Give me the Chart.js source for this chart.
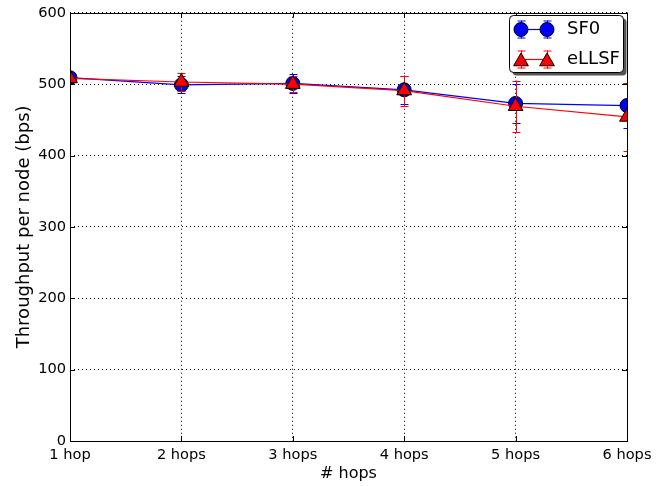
<!DOCTYPE html>
<html>
<head>
<meta charset="utf-8">
<script src="https://cdn.jsdelivr.net/npm/chart.js@4/dist/chart.umd.min.js"></script>
<style>
    html, body { margin: 0; padding: 0; background: #fff; }
    #wrap { width: 672px; height: 486px; }
</style>
</head>
<body>
<div id="wrap"><canvas id="hopsChart" width="672" height="486"></canvas></div>
<script>
// Throughput per node vs number of hops

const hopLabels = ['1 hop', '2 hops', '3 hops', '4 hops', '5 hops', '6 hops'];
const sf0Values = [509, 499, 501, 492, 473, 470];
const sf0Errors = [5, 12, 13, 20, 27, 31];
const ellsfValues = [508, 503, 500, 491, 469, 454];
const ellsfErrors = [4, 12, 11, 21, 36, 47];
const yTicks = [0, 100, 200, 300, 400, 500, 600];

const FONT = 'DejaVu Sans';

// Error bars, drawn just before each dataset so markers sit on top
const errorBarPlugin = {
    id: 'errorBars',
    beforeDatasetDraw(chart, args) {
        const ds = chart.data.datasets[args.index];
        if (!ds.errors) return;
        const ctx = chart.ctx;
        const area = chart.chartArea;
        const yScale = chart.scales.y;
        ctx.save();
        ctx.beginPath();
        ctx.rect(area.left, area.top, area.right - area.left, area.bottom - area.top);
        ctx.clip();
        ctx.strokeStyle = ds.borderColor;
        ctx.lineWidth = 1;
        args.meta.data.forEach((pt, i) => {
            const v = ds.data[i];
            const e = ds.errors[i];
            const x = Math.round(pt.x) + 0.5;
            const yTop = yScale.getPixelForValue(v + e);
            const yBot = yScale.getPixelForValue(v - e);
            ctx.beginPath();
            ctx.moveTo(x, yTop);
            ctx.lineTo(x, yBot);
            ctx.moveTo(x - 4, Math.round(yTop) + 0.5);
            ctx.lineTo(x + 4, Math.round(yTop) + 0.5);
            ctx.moveTo(x - 4, Math.round(yBot) + 0.5);
            ctx.lineTo(x + 4, Math.round(yBot) + 0.5);
            ctx.stroke();
        });
        ctx.restore();
    }
};

// Frame, inward ticks on all four sides, and the legend box
const framePlugin = {
    id: 'frame',
    afterDraw(chart) {
        const ctx = chart.ctx;
        const a = chart.chartArea;
        const xs = chart.scales.x;
        const ys = chart.scales.y;
        ctx.save();
        ctx.strokeStyle = '#000';
        ctx.lineWidth = 1;
        ctx.strokeRect(Math.round(a.left) + 0.5, Math.round(a.top) + 0.5,
            Math.round(a.right - a.left), Math.round(a.bottom - a.top));

        const len = 5;
        ctx.beginPath();
        hopLabels.forEach((l, i) => {
            const x = Math.round(xs.getPixelForValue(i)) + 0.5;
            ctx.moveTo(x, a.bottom); ctx.lineTo(x, a.bottom - len);
            ctx.moveTo(x, a.top); ctx.lineTo(x, a.top + len);
        });
        yTicks.forEach(v => {
            const y = Math.round(ys.getPixelForValue(v)) + 0.5;
            ctx.moveTo(a.left, y); ctx.lineTo(a.left + len, y);
            ctx.moveTo(a.right, y); ctx.lineTo(a.right - len, y);
        });
        ctx.stroke();

        // legend
        const bx = 509.5, by = 15.5, bw = 114, bh = 57, r = 4;
        ctx.fillStyle = '#555';
        ctx.beginPath();
        ctx.roundRect(bx + 3, by + 3, bw, bh, r);
        ctx.fill();
        ctx.fillStyle = '#fff';
        ctx.beginPath();
        ctx.roundRect(bx, by, bw, bh, r);
        ctx.fill();
        ctx.stroke();

        const rows = [
            { label: 'SF0', color: '#0000ff', style: 'circle', radius: 7, y: 29.5 },
            { label: 'eLLSF', color: '#ff0000', style: 'triangle', radius: 8.5, y: 59.5 }
        ];
        rows.forEach(row => {
            const x1 = 521, x2 = 547;
            ctx.strokeStyle = row.color;
            ctx.lineWidth = 1.2;
            ctx.beginPath();
            ctx.moveTo(x1, row.y); ctx.lineTo(x2, row.y);
            ctx.stroke();
            ctx.lineWidth = 1;
            [x1, x2].forEach(x => {
                const xx = x + 0.5;
                ctx.beginPath();
                ctx.moveTo(xx, row.y - 9); ctx.lineTo(xx, row.y + 9);
                ctx.moveTo(xx - 4, row.y - 8.5); ctx.lineTo(xx + 4, row.y - 8.5);
                ctx.moveTo(xx - 4, row.y + 8.5); ctx.lineTo(xx + 4, row.y + 8.5);
                ctx.stroke();
                ctx.fillStyle = row.color;
                ctx.strokeStyle = '#000';
                Chart.helpers.drawPoint(ctx, { pointStyle: row.style, radius: row.radius, rotation: 0, borderWidth: 1 }, x, row.style === 'triangle' ? row.y + 2 : row.y);
                ctx.strokeStyle = row.color;
            });
            ctx.fillStyle = '#000';
            ctx.font = '18px "' + FONT + '"';
            ctx.textBaseline = 'middle';
            ctx.textAlign = 'left';
            ctx.fillText(row.label, 567, row.y);
        });
        ctx.restore();
    }
};

const ctx = document.getElementById('hopsChart');

new Chart(ctx, {
    type: 'line',
    data: {
        labels: hopLabels,
        datasets: [
            {
                label: 'SF0',
                data: sf0Values,
                errors: sf0Errors,
                borderColor: '#0000ff',
                backgroundColor: '#0000ff',
                borderWidth: 1.2,
                pointStyle: 'circle',
                pointRadius: 7,
                pointBorderColor: '#000',
                pointBorderWidth: 1,
                pointBackgroundColor: '#0000ff',
                tension: 0,
                clip: 0,
                order: 2
            },
            {
                label: 'eLLSF',
                data: ellsfValues,
                errors: ellsfErrors,
                borderColor: '#ff0000',
                backgroundColor: '#ff0000',
                borderWidth: 1.2,
                pointStyle: 'triangle',
                pointRadius: 8.5,
                pointBorderColor: '#000',
                pointBorderWidth: 1,
                pointBackgroundColor: '#ff0000',
                tension: 0,
                clip: 0,
                order: 1
            }
        ]
    },
    options: {
        responsive: false,
        animation: false,
        devicePixelRatio: 1,
        layout: {
            padding: { top: 10, right: 45, left: 0, bottom: 0 }
        },
        plugins: {
            legend: { display: false },
            tooltip: { enabled: false }
        },
        scales: {
            x: {
                offset: false,
                afterFit: s => { s.height = 45; },
                grid: {
                    color: '#000',
                    lineWidth: 1,
                    drawTicks: false
                },
                border: { display: false, dash: [1, 3] },
                ticks: {
                    color: '#000',
                    padding: 5,
                    maxRotation: 0,
                    font: { family: FONT, size: 14.6 }
                },
                title: {
                    display: true,
                    text: '# hops',
                    color: '#000',
                    padding: { top: 0, bottom: 3 },
                    font: { family: FONT, size: 16 }
                }
            },
            y: {
                min: 0,
                max: 600,
                afterFit: s => { s.width = 70; },
                afterBuildTicks: s => { s.ticks = yTicks.map(v => ({ value: v })); },
                grid: {
                    color: '#000',
                    lineWidth: 1,
                    drawTicks: false
                },
                border: { display: false, dash: [1, 3] },
                ticks: {
                    color: '#000',
                    padding: 4,
                    font: { family: FONT, size: 14.6 }
                },
                title: {
                    display: true,
                    text: 'Throughput per node (bps)',
                    color: '#000',
                    padding: { top: 14, bottom: 0 },
                    font: { family: FONT, size: 18 }
                }
            }
        }
    },
    plugins: [errorBarPlugin, framePlugin]
});
</script>
</body>
</html>
